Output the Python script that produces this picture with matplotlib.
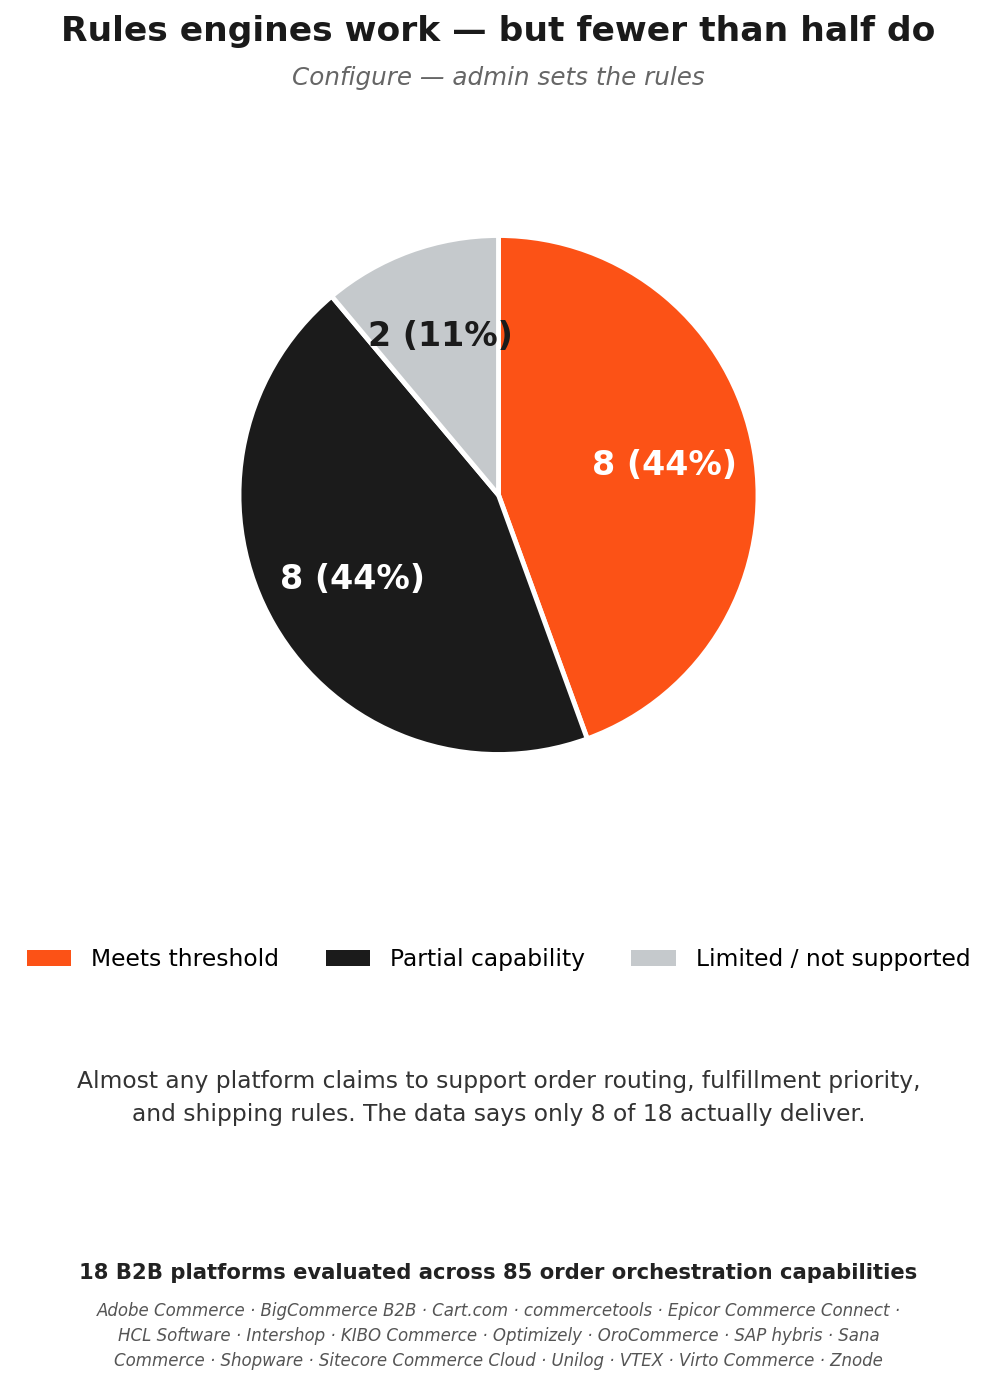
import matplotlib
matplotlib.use("Agg")
import matplotlib.pyplot as plt
from matplotlib.patches import Patch

categories = ["Meets threshold", "Partial capability", "Limited / not supported"]
counts = [8, 8, 2]
colors = ["#FC5216", "#1B1B1B", "#C5C9CC"]
label_colors = ["white", "white", "#1B1B1B"]

title = "Rules engines work — but fewer than half do"
subtitle = "Configure — admin sets the rules"
body = ("Almost any platform claims to support order routing, fulfillment priority,\n"
        "and shipping rules. The data says only 8 of 18 actually deliver.")
footer = "18 B2B platforms evaluated across 85 order orchestration capabilities"
platforms = ("Adobe Commerce · BigCommerce B2B · Cart.com · commercetools · Epicor Commerce Connect ·\n"
             "HCL Software · Intershop · KIBO Commerce · Optimizely · OroCommerce · SAP hybris · Sana\n"
             "Commerce · Shopware · Sitecore Commerce Cloud · Unilog · VTEX · Virto Commerce · Znode")

total = sum(counts)

fig = plt.figure(figsize=(9.97, 13.86), dpi=100)
w, h = 0.6507, 0.4681
ax = fig.add_axes([0.5 - w / 2, 1 - 495 / 1386 - h / 2, w, h])

wedges, texts, autotexts = ax.pie(
    counts,
    colors=colors,
    startangle=90,
    counterclock=False,
    autopct=lambda p: f"{round(p * total / 100)} ({p:.0f}%)",
    pctdistance=0.65,
    wedgeprops=dict(edgecolor="white", linewidth=3.5),
)
for t, c in zip(autotexts, label_colors):
    t.set_color(c)
    t.set_fontsize(24)
    t.set_fontweight("bold")
ax.set_xlim(-1.25, 1.25)
ax.set_ylim(-1.25, 1.25)
ax.set_aspect("equal")

fig.text(0.5, 0.977, title, ha="center", va="center", fontsize=24.8,
         fontweight="bold", color="#1a1a1a")
fig.text(0.5, 0.944, subtitle, ha="center", va="center", fontsize=17.7,
         style="italic", color="#666666")

handles = [Patch(facecolor=c, label=l) for c, l in zip(colors, categories)]
fig.legend(handles=handles, loc="center", bbox_to_anchor=(0.5, 0.3075), ncol=3,
           frameon=False, fontsize=16.8, handlelength=1.9, handleheight=0.65,
           handletextpad=0.85, columnspacing=2.0)

fig.text(0.5, 0.2075, body, ha="center", va="center", fontsize=16.8,
         color="#333333", linespacing=1.55)
fig.text(0.5, 0.0815, footer, ha="center", va="center", fontsize=15.2,
         fontweight="bold", color="#222222")
fig.text(0.5, 0.036, platforms, ha="center", va="center", fontsize=12,
         style="italic", color="#555555", linespacing=1.5)

fig.savefig("out.png", dpi=100)
